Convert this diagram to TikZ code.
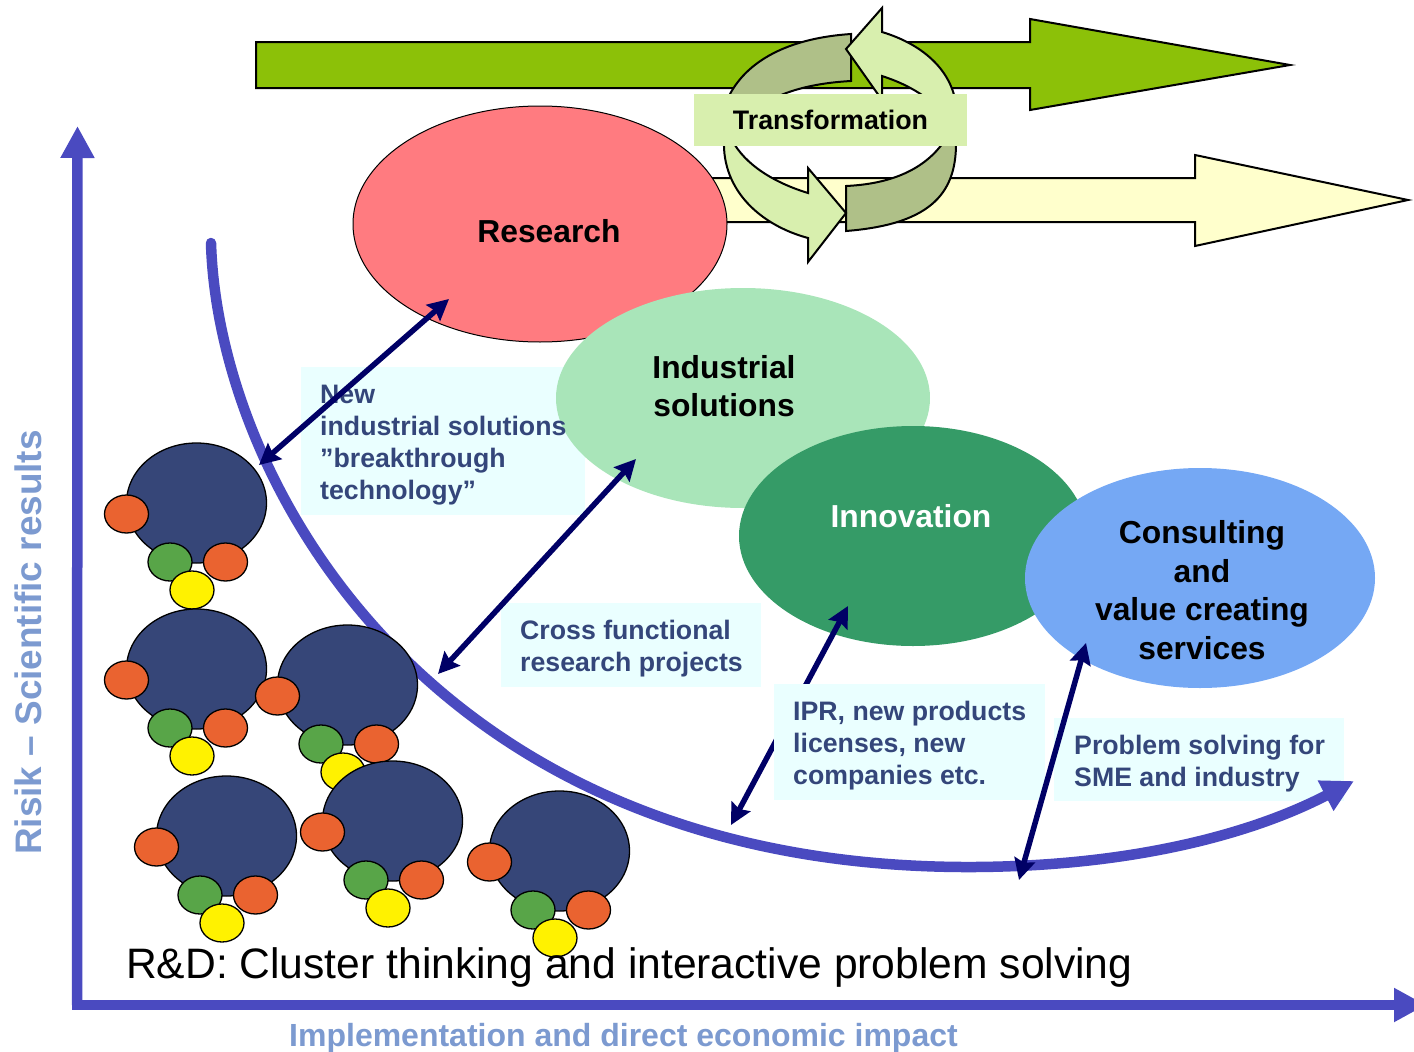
\documentclass[tikz,border=0pt]{standalone}
\usepackage{fontspec}
\setmainfont{Liberation Sans}
\usetikzlibrary{arrows.meta,shapes.geometric}
\definecolor{axisblue}{HTML}{4A4AC0}
\definecolor{labelblue}{HTML}{7C9AD0}
\definecolor{navy}{HTML}{000066}
\definecolor{slate}{HTML}{34467A}
\definecolor{boxcyan}{HTML}{EAFFFF}
\definecolor{loopl}{HTML}{D8EFAE}
\definecolor{loopd}{HTML}{AFC088}
\definecolor{big}{HTML}{364678}
\definecolor{orng}{HTML}{EA6330}
\definecolor{grn}{HTML}{58A548}
\tikzset{
  x=1pt,y=-1pt,
  bigblob/.style={shape=ellipse,draw=black,line width=1.3pt,fill=big,inner sep=0pt,minimum width=140pt,minimum height=120pt},
  smallblob/.style={shape=ellipse,draw=black,line width=1.3pt,inner sep=0pt,minimum width=44pt,minimum height=38pt},
  area/.style={shape=ellipse,inner sep=0pt,align=center},
  arealabel/.style={align=center,font=\fontsize{31.8}{38.5}\selectfont\bfseries},
  infobox/.style={fill=boxcyan,anchor=north west,inner sep=0pt,align=left,text=slate,font=\fontsize{26.7}{32}\selectfont\bfseries},
  link/.style={navy,line width=5.5pt,{Stealth[length=21pt,width=21pt,inset=3pt]}-{Stealth[length=21pt,width=21pt,inset=3pt]}},
  flow/.style={draw=black,line width=2pt,line join=miter},
  loopshape/.style={draw=black,line width=2pt,line join=miter},
  axisline/.style={axisblue,line width=10.5pt,-{Triangle[length=32pt,width=32pt]}}
}
\newcommand{\cluster}[3]{%
  \node[bigblob] (#3b) at (#1-0.5,#2) {};
  \node[smallblob,fill=orng] (#3l) at (#1-70.5,#2+11) {};
  \node[smallblob,fill=grn] (#3g) at (#1-27,#2+59) {};
  \node[smallblob,fill=orng] (#3r) at (#1+28.5,#2+59) {};
  \node[smallblob,fill=yellow] (#3y) at (#1-5,#2+87) {};
}
\begin{document}
\begin{tikzpicture}
\useasboundingbox (0,0) rectangle (1414,1052);
% wide arrows
\draw[flow,fill={rgb,255:red,140;green,193;blue,8}] (256,42) -- (1030,42) -- (1030,19) -- (1290,65) -- (1030,110) -- (1030,88) -- (256,88) -- cycle;
\draw[flow,fill={rgb,255:red,255;green,255;blue,204}] (700,178) -- (1195,178) -- (1195,155) -- (1408,200) -- (1195,246) -- (1195,222) -- (700,222) -- cycle;
% loop arrows
\draw[loopshape,fill=loopd] (851,34) .. controls (790,38) and (745,60) .. (727,100) -- (770,100) .. controls (790,90) and (815,83) .. (851,81) -- cycle;
\draw[loopshape,fill=loopl] (846,49) -- (882,8) -- (882,32) .. controls (925,45) and (952,72) .. (956,105) -- (956,130) -- (925,130) -- (925,97) .. controls (912,88) and (900,82) .. (882,76) -- (882,100) -- cycle;
\draw[loopshape,fill=loopd] (956,140) .. controls (957,190) and (935,224) .. (846,231) -- (846,186) .. controls (890,184) and (925,170) .. (945,140) -- cycle;
\draw[loopshape,fill=loopl] (724,140) .. controls (722,190) and (760,225) .. (808,238) -- (808,262) -- (846,213) -- (808,168) -- (808,193) .. controls (775,183) and (745,165) .. (732,140) -- cycle;
% areas
\node[area,draw=black,line width=1pt,fill={rgb,255:red,255;green,123;blue,128},minimum width=374pt,minimum height=236pt] (research) at (540,224) {};
\node[arealabel] (researchlabel) at (549,231) {Research};
\node[fill=loopl,minimum width=273pt,minimum height=52pt,inner sep=0pt,font=\fontsize{26.8}{32}\selectfont\bfseries] (transform) at (830.5,120) {Transformation};
% info boxes
\node[infobox,minimum width=284pt,minimum height=148pt] (b1) at (301,367) {};
\node[infobox,minimum width=260pt,minimum height=84pt] (b2) at (501,603) {};
\node[area,fill={rgb,255:red,169;green,229;blue,185},minimum width=374pt,minimum height=220pt] (industrial) at (743,398) {};
\node[arealabel] (indlabel) at (724,386) {Industrial\\solutions};
\node[area,fill={rgb,255:red,53;green,155;blue,103},minimum width=348pt,minimum height=220pt] (innovation) at (913,536) {};
\node[arealabel,text=white] (innlabel) at (911,516) {Innovation};
\node[area,fill={rgb,255:red,117;green,168;blue,244},minimum width=350pt,minimum height=220pt] (consulting) at (1200,578) {};
\node[arealabel] (conlabel) at (1202,590) {Consulting\\and\\value creating\\services};
% link ends
\coordinate (a1) at (449,299); \coordinate (a2) at (259,465);
\coordinate (c1) at (636,459); \coordinate (c2) at (438,674);
\coordinate (d1) at (848,606); \coordinate (d2) at (731,825);
\coordinate (e1) at (1086,643); \coordinate (e2) at (1019,880);
\draw[link] (d1) -- (d2);
\node[infobox,minimum width=271pt,minimum height=116pt] (b3) at (774,684) {};
\node[infobox,minimum width=290pt,minimum height=83pt] (b4) at (1054,718) {};
% curve
\coordinate (cs) at (211,243);
\coordinate (ce) at (1354,781);
\draw[axisblue,line width=10.5pt,line cap=round,-{Triangle[length=32pt,width=32pt]}] (cs) .. controls (218,480) and (430,870) .. (975,867) .. controls (1130,866) and (1250,835) .. (ce);
% box texts
\node[infobox,fill=none] (t1) at (320,385) {New\\industrial solutions\\”breakthrough\\technology”};
\node[infobox,fill=none] (t2) at (520,620) {Cross functional\\research projects};
\node[infobox,fill=none] (t3) at (793,701) {IPR, new products\\licenses, new\\companies etc.};
\node[infobox,fill=none] (t4) at (1074,735) {Problem solving for\\SME and industry};
\draw[link] (a1) -- (a2);
\draw[link] (c1) -- (c2);
\draw[link] (e1) -- (e2);
% clusters
\cluster{197}{503}{p}
\cluster{197}{669}{q}
\cluster{348}{685}{r}
\cluster{227}{836}{s}
\cluster{393}{821}{t}
\cluster{560}{851}{u}
% axes
\coordinate (o) at (77,1005);
\coordinate (ytip) at (77.5,126);
\coordinate (xtip) at (1426,1005);
\draw[axisline] (o) -- (ytip);
\draw[axisline] (72,1005) -- (xtip);
\node[anchor=west,inner sep=0pt,font=\fontsize{42.6}{48}\selectfont] (title) at (126,967) {R\&D: Cluster thinking and interactive problem solving};
\node[text=labelblue,font=\fontsize{32}{36}\selectfont\bfseries] (xlabel) at (623.5,1038) {Implementation and direct economic impact};
\node[text=labelblue,rotate=90,font=\fontsize{36.9}{42}\selectfont\bfseries] (ylabel) at (28,642.5) {Risik – Scientific results};
\end{tikzpicture}
\end{document}
